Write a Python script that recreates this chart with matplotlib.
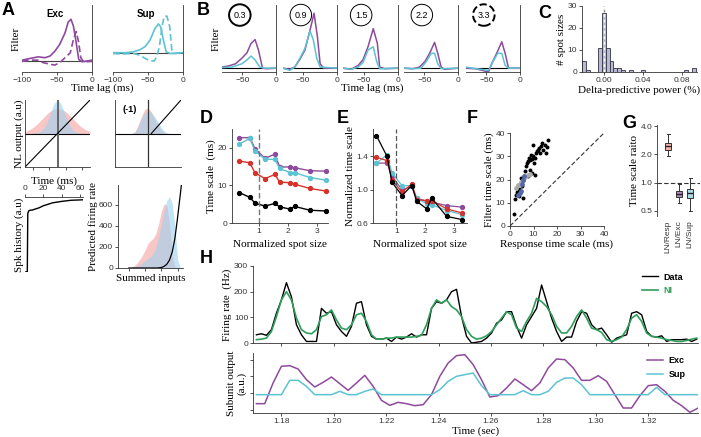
import numpy as np
import matplotlib
matplotlib.use("Agg")
import matplotlib.pyplot as plt

W, H = 701, 437
SANS = "Liberation Sans"
SERIF = "Liberation Serif"
PURPLE = "#8e4a9c"
CYAN = "#5cc3d2"
RED = "#d8312b"
GREEN = "#2e9e5b"
PINK = "#f5a0a0"
LBLUE = "#9cd3f0"

# ---- A: filters
exc_t = [-100, -89, -77, -67, -60, -53, -46, -38.5, -34, -30, -26.5, -22.6, -19, -14, -7, 0]
exc_solid = [0.02, 0.06, 0.10, 0.08, 0.12, 0.24, 0.41, 0.69, 0.95, 1.02, 0.85, 0.45, 0.04, -0.02, 0.0, 0.02]
exc_dash_t = [-100, -89, -77, -70, -60, -53, -46, -38.5, -31, -26.5, -22.6, -19, -16, -12, 0]
exc_dash = [-0.01, 0.02, 0.02, -0.04, -0.08, -0.10, -0.04, 0.08, 0.20, 0.53, 0.72, 0.45, 0.08, -0.02, -0.01]
sup_t = [-100, -81, -71, -61.5, -54, -47, -40, -35, -32, -28, -24, -18, 0]
sup_solid = [0.0, 0.0, 0.02, 0.07, 0.15, 0.31, 0.59, 0.70, 0.63, 0.31, 0.02, -0.02, 0.0]
sup_dash_t = [-100, -85.6, -71, -61.5, -54, -47, -41, -37.5, -33.7, -30, -27, -23, -19, -16, -12.5, 0]
sup_dash = [-0.02, -0.03, -0.02, -0.06, -0.14, -0.20, -0.20, -0.10, 0.15, 0.63, 0.88, 0.89, 0.63, 0.07, -0.02, 0.0]

# ---- A: nonlinearities
nl_x = [-1.0, -0.9, -0.8, -0.7, -0.6, -0.5, -0.4, -0.3, -0.2, -0.1, 0.0,
        0.1, 0.2, 0.3, 0.4, 0.5, 0.6, 0.7, 0.8, 0.9, 1.0]
nl1_pink = [0.06, 0.10, 0.15, 0.22, 0.31, 0.41, 0.51, 0.61, 0.68, 0.73, 0.75,
            0.73, 0.68, 0.61, 0.51, 0.41, 0.31, 0.22, 0.15, 0.10, 0.06]
nl1_blue = [0.0, 0.0, 0.0, 0.01, 0.03, 0.08, 0.19, 0.39, 0.66, 0.90, 1.0,
            0.90, 0.66, 0.39, 0.19, 0.08, 0.03, 0.01, 0.0, 0.0, 0.0]
nl2_pink = [0.0, 0.0, 0.0, 0.0, 0.0, 0.0, 0.05, 0.25, 0.50, 0.72, 0.76,
            0.65, 0.45, 0.25, 0.10, 0.02, 0.0, 0.0, 0.0, 0.0, 0.0]
nl2_blue = [0.0, 0.0, 0.0, 0.0, 0.0, 0.0, 0.03, 0.20, 0.45, 0.62, 0.68,
            0.62, 0.50, 0.35, 0.18, 0.06, 0.01, 0.0, 0.0, 0.0, 0.0]
relu_x = [0.1, 1.0]
relu_y = [0.0, 1.0]

# ---- A: spike history and output NL
spk_t = [0, 1.5, 2.5, 3, 4, 6, 8, 10, 15, 20, 25, 30, 35, 40, 50, 60, 63]
spk_h = [-1.0, -1.0, -1.0, -0.2, -0.16, -0.15, -0.15, -0.14, -0.12, -0.09, -0.07,
         -0.05, -0.04, -0.03, -0.015, -0.01, -0.008]
pred_x = [-2.0, -1.75, -1.5, -1.25, -1.0, -0.75, -0.5, -0.25, 0.0, 0.25, 0.5,
          0.75, 1.0, 1.25, 1.5, 1.75, 2.0, 2.25, 2.5, 2.75, 3.0]
pred_pink = [0, 5, 20, 45, 80, 120, 170, 230, 260, 280, 330,
             420, 540, 610, 600, 420, 120, 10, 0, 0, 0]
pred_blue = [0, 0, 5, 15, 30, 50, 70, 90, 110, 140, 200,
             300, 420, 540, 640, 680, 620, 400, 80, 5, 0]
pred_nl = [0, 0, 0, 0, 0, 0, 0, 0, 0, 0, 0,
           1, 5, 15, 35, 75, 150, 280, 480, 700, 920]

# ---- B: filters per spot size
spot_labels = ["0.3", "0.9", "1.5", "2.2", "3.3"]
b_exc_t = [
    [-80, -70, -60, -50.6, -43, -37, -31, -26, -20, -14, 0],
    [-80, -70, -62.5, -55, -47.5, -40, -34, -29, -25, -20, 0],
    [-80, -68, -58, -51, -43.6, -36, -30, -26.7, -19, 0],
    [-80, -67, -57, -49, -42, -34.7, -30, -25, -20, 0],
    [-80, -66, -56, -46.6, -42, -34.6, -27, -22, -17, 0],
]
b_exc = [
    [0.02, 0.04, 0.08, 0.18, 0.28, 0.45, 0.52, 0.33, 0.0, -0.01, 0.0],
    [0.0, -0.02, 0.02, 0.16, 0.33, 0.69, 1.0, 0.57, 0.08, 0.0, 0.0],
    [0.0, -0.02, 0.05, 0.15, 0.39, 0.72, 0.45, 0.02, -0.01, 0.0],
    [0.0, -0.01, 0.02, 0.12, 0.27, 0.47, 0.27, 0.02, -0.02, 0.0],
    [0.0, -0.01, -0.04, -0.07, 0.08, 0.27, 0.48, 0.27, 0.0, 0.0],
]
b_sup_t = [
    [-80, -65, -50.6, -43, -37, -31, -24, -17, 0],
    [-80, -70, -62.5, -55, -47.5, -40, -35, -30, -25, 0],
    [-80, -68, -58, -51, -43.6, -36, -31, -26.7, 0],
    [-80, -67, -55, -47, -39.6, -34.7, -30, -25, 0],
    [-80, -71, -59, -46.6, -40, -33, -27, -22, -17, 0],
]
b_sup = [
    [0.01, 0.02, 0.08, 0.15, 0.22, 0.15, 0.02, 0.0, 0.0],
    [0.0, -0.04, 0.02, 0.18, 0.36, 0.68, 0.51, 0.18, 0.02, 0.0],
    [0.0, -0.02, 0.02, 0.10, 0.33, 0.39, 0.12, -0.01, 0.0],
    [0.0, -0.01, 0.0, 0.12, 0.27, 0.27, 0.08, -0.01, 0.0],
    [0.02, 0.0, -0.02, -0.04, 0.12, 0.27, 0.27, 0.05, 0.0, 0.0],
]

# ---- C: histogram of delta predictive power
c_centers = [-0.020, -0.016, -0.004, 0.000, 0.004, 0.008, 0.012, 0.016, 0.020, 0.028, 0.040, 0.084, 0.092]
c_counts = [5, 1, 11, 27, 11, 5, 2, 2, 1, 1, 1, 1, 2]

# ---- D / E: time scales vs spot size
spot = [0.31, 0.68, 0.85, 1.2, 1.54, 1.71, 2.06, 2.23, 2.75, 3.3]
d_purple = [22.7, 22.7, 19.8, 17.2, 18.3, 14.9, 14.9, 14.7, 13.9, 13.8]
d_cyan = [21.0, 22.5, 19.2, 17.0, 16.9, 14.5, 13.4, 13.4, 12.1, 11.4]
d_red = [16.5, 16.0, 13.4, 11.8, 12.9, 10.9, 10.7, 10.3, 9.2, 8.5]
d_black = [8.1, 6.8, 5.3, 4.5, 5.2, 4.3, 3.7, 4.4, 3.4, 3.2]
e_black = [1.65, 1.40, 1.09, 0.93, 1.05, 0.86, 0.77, 0.90, 0.68, 0.64]
e_red = [1.39, 1.35, 1.12, 0.97, 1.07, 0.88, 0.87, 0.87, 0.77, 0.72]
e_purple = [1.32, 1.32, 1.16, 1.00, 1.04, 0.90, 0.86, 0.85, 0.81, 0.79]
e_cyan = [1.32, 1.42, 1.20, 1.05, 1.05, 0.90, 0.83, 0.82, 0.75, 0.70]

# ---- F: filter vs response time scale
f_resp = [1.7, 2.1, 2.6, 3.1, 3.7, 4.0, 4.3, 5.0, 4.7, 5.4, 5.7, 6.0, 6.4, 6.8, 7.4, 7.8, 7.8, 8.2,
          8.5, 8.5, 8.8, 9.2, 9.2, 9.6, 9.9, 10.2, 10.6, 10.6, 11.0, 11.3, 11.8, 12.3, 12.8, 13.0,
          13.6, 14.2, 14.9, 15.3, 15.6, 16.0]
f_filt = [5.2, 11.5, 13.4, 14.8, 12.7, 15.8, 14.8, 17.0, 20.6, 19.9, 11.9, 21.3, 23.5, 25.6, 27.0,
          27.8, 21.3, 29.2, 28.2, 24.2, 30.6, 28.8, 22.7, 29.9, 35.0, 27.0, 29.2, 22.0, 31.4, 32.1,
          32.8, 33.5, 31.4, 34.2, 35.7, 32.8, 35.0, 31.4, 34.0, 37.1]
f_gray_resp = [2.5, 3.5, 4.5, 5.5, 6.5, 7.5, 8.5]
f_gray_filt = [16.5, 17.5, 19.0, 20.0, 21.0, 22.0, 22.5]
f_blue_resp = [3.5, 4.2, 4.8, 5.2, 5.6, 6.0]
f_blue_filt = [13.5, 14.0, 15.0, 18.0, 20.0, 21.5]

# ---- G: time scale ratios
g_labels = ["LN/Resp", "LN/Exc", "LN/Sup"]
g_med = [2.44, 0.76, 0.78]
g_q1 = [2.20, 0.70, 0.68]
g_q3 = [2.66, 0.82, 0.86]
g_lo = [1.90, 0.60, 0.50]
g_hi = [3.30, 0.96, 1.13]
g_colors = ["#f2b4ac", "#b58ac0", "#a9dde3"]

# ---- H: firing rate and subunit outputs
rate_data = [32, 36, 30, 52, 116, 168, 235, 180, 71, 32, 6, 6, 6, 135, 116, 122, 71, 45, 26, 65,
             155, 161, 71, 26, 15, 15, 19, 6, 23, 15, 23, 36, 23, 32, 32, 135, 161, 155, 168, 200,
             209, 103, 26, 0, 3, 6, 19, 39, 77, 90, 122, 122, 65, 19, 71, 103, 135, 226, 161, 97,
             45, 6, 23, 23, 84, 122, 116, 71, 52, 58, 32, 3, 19, 26, 32, 116, 122, 110, 45, 26,
             23, 28, 6, 13, 13, 13, 15, 6, 15]
rate_ni = [13, 15, 19, 45, 103, 168, 200, 168, 97, 52, 39, 36, 52, 103, 110, 129, 90, 58, 52, 71,
           110, 116, 84, 32, 15, 15, 19, 19, 23, 23, 23, 23, 26, 30, 71, 135, 168, 155, 168, 142,
           129, 103, 52, 26, 15, 19, 28, 45, 71, 97, 122, 110, 58, 45, 84, 116, 174, 161, 142, 110,
           65, 39, 39, 65, 103, 129, 97, 58, 52, 41, 13, 6, 13, 23, 52, 97, 110, 84, 39, 26,
           23, 19, 13, 10, 6, 6, 10, 15, 19]
sub_exc = [28, 28, 90, 140, 142, 132, 100, 78, 92, 108, 88, 68, 90, 113, 80, 38, 23, 32, 28, 22,
           25, 55, 110, 150, 172, 175, 145, 100, 48, 52, 75, 102, 85, 67, 90, 135, 162, 160, 135, 98,
           98, 112, 95, 55, 15, 15, 52, 82, 85, 65, 38, 22, 2, 15]
sub_sup = [55, 55, 55, 55, 98, 98, 80, 55, 55, 55, 65, 55, 55, 65, 72, 55, 55, 55, 55, 55,
           55, 55, 70, 95, 110, 115, 120, 82, 55, 55, 55, 55, 67, 55, 55, 65, 92, 105, 105, 85,
           55, 55, 55, 55, 55, 55, 55, 55, 77, 55, 55, 55, 55, 55]
t_rate = np.linspace(1.1705, 1.3385, len(rate_data))
t_sub = np.linspace(1.1705, 1.3391, len(sub_exc))

plt.rcParams.update({
    "font.family": SANS, "font.size": 6, "axes.linewidth": 0.6, "axes.edgecolor": "#333333",
    "xtick.major.width": 0.6, "ytick.major.width": 0.6, "xtick.major.size": 2,
    "ytick.major.size": 2, "xtick.labelsize": 6, "ytick.labelsize": 6,
    "xtick.major.pad": 1.5, "ytick.major.pad": 1.5, "xtick.color": "#333333",
    "ytick.color": "#333333",
})

fig = plt.figure(figsize=(W / 100, H / 100), dpi=100)


def ax_at(x0, y0, x1, y1):
    return fig.add_axes([x0 / W, 1 - y1 / H, (x1 - x0) / W, (y1 - y0) / H])


def keep(ax, sides):
    for s in ["left", "right", "top", "bottom"]:
        ax.spines[s].set_visible(s in sides)


def serif(ax, xl=None, yl=None, size=8, xpad=1, ypad=1):
    if xl:
        ax.set_xlabel(xl, family=SERIF, fontsize=size, labelpad=xpad)
    if yl:
        ax.set_ylabel(yl, family=SERIF, fontsize=size, labelpad=ypad)


def letter(x, y, s):
    fig.text(x / W, 1 - y / H, s, fontsize=13, fontweight="bold", ha="left", va="top")


# ---------------- A filters
for x0, x1, t1, y1, t2, y2, col, ylim, title in [
        (22, 92, exc_t, exc_solid, exc_dash_t, exc_dash, PURPLE, (-0.27, 1.37), "Exc"),
        (113, 183, sup_t, sup_solid, sup_dash_t, sup_dash, CYAN, (-0.47, 1.16), "Sup")]:
    ax = ax_at(x0, 5, x1, 72)
    ax.axhline(0, color="#444444", lw=0.8)
    ax.plot(t1, y1, color=col, lw=1.2)
    ax.plot(t2, y2, color=col, lw=1.2, ls=(0, (4, 2)))
    ax.set_xlim(-100, 0)
    ax.set_ylim(*ylim)
    keep(ax, ["right", "bottom"])
    ax.set_xticks([-100, -50, 0])
    ax.set_yticks([])
    ax.text(0.47, 0.86, title, transform=ax.transAxes, ha="center", va="center",
            fontsize=7, fontweight="bold")
    if title == "Exc":
        serif(ax, yl="Filter")
fig.text(102 / W, 1 - 88 / H, "Time lag (ms)", family=SERIF, fontsize=8, ha="center", va="center")

# ---------------- A nonlinearities
ax = ax_at(25, 100, 90, 167)
ax.fill_between(nl_x, 0, nl1_pink, color=PINK, alpha=0.6, lw=0)
ax.fill_between(nl_x, 0, nl1_blue, color=LBLUE, alpha=0.6, lw=0)
ax.axhline(0, color="k", lw=0.8)
ax.axvline(0, color="#666666", lw=1.4)
ax.plot([-1, 1], [-1, 1], color="k", lw=0.8)
ax.set_xlim(-1, 1)
ax.set_ylim(-1, 1)
keep(ax, ["left", "bottom"])
ax.set_xticks([-0.75, -0.25, 0.25, 0.75])
ax.set_xticklabels([])
ax.set_yticks([])
serif(ax, yl="NL output (a.u)")

ax = ax_at(115, 100, 181, 167)
ax.fill_between(nl_x, 0, nl2_pink, color=PINK, alpha=0.6, lw=0)
ax.fill_between(nl_x, 0, nl2_blue, color=LBLUE, alpha=0.6, lw=0)
ax.axhline(0, color="k", lw=0.8)
ax.axvline(0, color="#333333", lw=0.9)
ax.plot(relu_x, relu_y, color="k", lw=0.8)
ax.set_xlim(-1, 1)
ax.set_ylim(-1, 1)
keep(ax, ["left", "bottom"])
ax.set_xticks([])
ax.set_yticks([])
ax.text(0.12, 0.92, "(-1)", transform=ax.transAxes, fontsize=6.5, fontweight="bold", va="top")

# ---------------- A spike history
ax = ax_at(25, 197, 83, 272)
ax.plot(spk_t, spk_h, color="k", lw=1.0)
ax.set_xlim(0, 63)
ax.set_ylim(-1.0, 0.03)
keep(ax, ["top"])
ax.xaxis.tick_top()
ax.xaxis.set_label_position("top")
ax.set_xticks([0, 20, 40, 60])
ax.set_yticks([])
serif(ax, xl="Time (ms)", yl="Spk history (a.u)", xpad=1)

# ---------------- A predicted firing rate
ax = ax_at(118, 185, 183, 268)
ax.fill_between(pred_x, 0, pred_pink, color=PINK, alpha=0.6, lw=0)
ax.fill_between(pred_x, 0, pred_blue, color=LBLUE, alpha=0.6, lw=0)
ax.plot(pred_x, pred_nl, color="k", lw=0.9)
ax.set_xlim(-3, 3)
ax.set_ylim(0, 790)
keep(ax, ["left", "bottom"])
ax.set_yticks([0, 200, 400, 600])
ax.set_xticks([-2, -0.5, 1, 2.5])
ax.set_xticklabels([])
serif(ax, xl="Summed inputs", yl="Predicted firing rate")

# ---------------- B
b_x = [(222, 276), (283, 337), (343, 398), (404, 458), (466, 520)]
for i, (x0, x1) in enumerate(b_x):
    ax = ax_at(x0, 5, x1, 72)
    ax.axhline(0, color="k", lw=0.8)
    ax.plot(b_exc_t[i], b_exc[i], color=PURPLE, lw=1.1)
    ax.plot(b_sup_t[i], b_sup[i], color=CYAN, lw=1.1)
    ax.set_xlim(-80, 0)
    ax.set_ylim(-0.07, 1.15)
    keep(ax, ["right", "bottom"])
    ax.set_xticks([-50, 0])
    ax.set_yticks([])
    lw, ls = 0.7, "-"
    if i == 0:
        lw = 1.4
    if i == 4:
        lw, ls = 1.4, "--"
    ax.text(0.33, 0.85, spot_labels[i], transform=ax.transAxes, ha="center", va="center",
            fontsize=6.5, bbox=dict(boxstyle="circle,pad=0.5", fc="white", ec="k", lw=lw, ls=ls))
    if i == 0:
        serif(ax, yl="Filter")
fig.text(372 / W, 1 - 88 / H, "Time lag (ms)", family=SERIF, fontsize=8, ha="center", va="center")

# ---------------- C
ax = ax_at(582, 6, 697, 72)
ax.bar(c_centers, c_counts, width=0.004, color="#b9b9d3", edgecolor="#333344", lw=0.6)
ax.axvline(0, color="white", lw=1.0, ls=(0, (2, 2)))
ax.plot([0, 0], [27.3, 30], color="#888888", lw=1.0, ls=(0, (2, 2)))
ax.set_xlim(-0.022, 0.095)
ax.set_ylim(0, 30)
keep(ax, ["left", "bottom"])
ax.set_xticks([0.0, 0.04, 0.08])
ax.set_xticklabels(["0.00", "0.04", "0.08"])
ax.set_yticks([0, 10, 20, 30])
serif(ax, xl="Delta-predictive power (%)", yl="# spot sizes")

# ---------------- D
ax = ax_at(232, 129, 328, 223)
for ys, col in [(d_purple, PURPLE), (d_cyan, CYAN), (d_red, RED), (d_black, "k")]:
    ax.plot(spot, ys, color=col, lw=1.0, marker="o", ms=2.8)
ax.axvline(1, color="#777777", lw=1.0, ls=(0, (4, 2)))
ax.set_xlim(0.06, 3.38)
ax.set_ylim(0, 25)
keep(ax, ["left", "bottom"])
ax.set_xticks([1, 2, 3])
ax.set_yticks([0, 10, 20])
serif(ax, xl="Normalized spot size", yl="Time scale  (ms)", xpad=4)

# ---------------- E
ax = ax_at(373, 129, 467, 223)
for ys, col in [(e_purple, PURPLE), (e_cyan, CYAN), (e_red, RED), (e_black, "k")]:
    ax.plot(spot, ys, color=col, lw=0.9, marker="o", ms=2.8)
ax.axvline(1, color="#555555", lw=0.9, ls=(0, (4, 2)))
ax.set_xlim(0.19, 3.46)
ax.set_ylim(0.6, 1.73)
keep(ax, ["left", "bottom"])
ax.set_xticks([1, 2, 3])
ax.set_yticks([0.6, 1.0, 1.4])
serif(ax, xl="Normalized spot size", yl="Normalized time scale", xpad=4)

# ---------------- F
ax = ax_at(510, 133, 604, 226)
ax.plot([0, 40], [0, 40], color="#333333", lw=0.8, ls=(0, (4, 2)))
ax.scatter(f_resp, f_filt, s=8, color="k", lw=0)
ax.plot(f_gray_resp, f_gray_filt, color="#aaaaaa", lw=0.8, marker="o", ms=2.4)
ax.plot(f_blue_resp, f_blue_filt, color="#5566aa", lw=0.8, marker="o", ms=2.4)
ax.set_xlim(0, 40)
ax.set_ylim(0, 40)
keep(ax, ["left", "bottom"])
ax.set_xticks([0, 10, 20, 30, 40])
ax.set_yticks([0, 10, 20, 30, 40])
serif(ax, xl="Response time scale (ms)", yl="Filter time scale (ms)")

# ---------------- G
ax = ax_at(657, 125, 700, 216)
stats = [dict(med=g_med[i], q1=g_q1[i], q3=g_q3[i], whislo=g_lo[i], whishi=g_hi[i],
              fliers=[], label=g_labels[i]) for i in range(3)]
bp = ax.bxp(stats, positions=[1, 2, 3], widths=0.55, patch_artist=True, showfliers=False,
            medianprops=dict(color="#222222", lw=1.0),
            whiskerprops=dict(color="#333333", lw=0.7), capprops=dict(color="#333333", lw=0.7),
            boxprops=dict(edgecolor="#333333", lw=0.7))
for patch, c in zip(bp["boxes"], g_colors):
    patch.set_facecolor(c)
ax.set_yscale("log")
ax.axhline(1.0, color="#333333", lw=0.8, ls=(0, (4, 2)))
ax.set_xlim(0.0, 3.9)
ax.set_ylim(0.44, 4.1)
keep(ax, ["left"])
ax.set_yticks([0.5, 1.0, 2.0, 4.0])
ax.set_yticklabels(["0.5", "1.0", "2.0", "4.0"])
ax.minorticks_off()
ax.set_xticks([1, 2, 3])
ax.set_xticklabels(g_labels, rotation=90, fontsize=6)
ax.tick_params(axis="x", length=0, pad=3)
serif(ax, yl="Time scale raito")

# ---------------- H
ax = ax_at(253, 266, 698, 343)
ax.plot(t_rate, rate_data, color="k", lw=1.0, label="Data")
ax.plot(t_rate, rate_ni, color=GREEN, lw=1.2, label="NI")
ax.set_xlim(1.1692, 1.339)
ax.set_ylim(0, 300)
keep(ax, ["left", "bottom"])
ax.set_yticks([0, 100, 200, 300])
ax.set_xticks([1.18, 1.20, 1.22, 1.24, 1.26, 1.28, 1.30, 1.32])
ax.set_xticklabels([])
serif(ax, yl="Firing rate  (Hz)")
leg = ax.legend(frameon=False, loc="upper right", handlelength=1.8, handletextpad=0.6,
                prop=dict(weight="bold", size=6.5), bbox_to_anchor=(0.985, 1.02))
leg.get_texts()[1].set_color(GREEN)

ax = ax_at(253, 353, 698, 413)
ax.plot(t_sub, sub_exc, color=PURPLE, lw=1.1, label="Exc")
ax.plot(t_sub, sub_sup, color=CYAN, lw=1.1, label="Sup")
ax.set_xlim(1.1692, 1.339)
ax.set_ylim(0, 180)
keep(ax, ["left", "bottom"])
ax.set_yticks([10, 60, 110, 160])
ax.set_yticklabels([])
ax.set_xticks([1.18, 1.20, 1.22, 1.24, 1.26, 1.28, 1.30, 1.32])
ax.set_xticklabels(["1.18", "1.20", "1.22", "1.24", "1.26", "1.28", "1.30", "1.32"])
serif(ax, xl="Time (sec)", yl="Subunit output\n(a.u.)")
ax.legend(frameon=False, loc="upper right", handlelength=1.8, handletextpad=0.6,
          prop=dict(weight="bold", size=6.5), bbox_to_anchor=(0.99, 1.08))

for x, y, s in [(2, 2, "A"), (197, 2, "B"), (538, 5, "C"), (200, 110, "D"),
                (337, 110, "E"), (467, 110, "F"), (622, 115, "G"), (200, 250, "H")]:
    letter(x, y, s)

fig.savefig("out.png", dpi=100)
